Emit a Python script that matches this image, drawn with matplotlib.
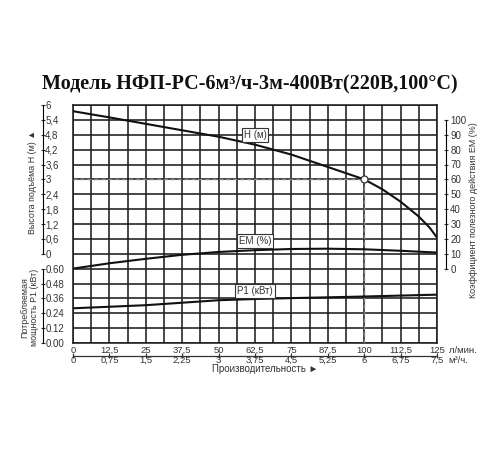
import matplotlib
matplotlib.use("Agg")
import matplotlib.pyplot as plt
import numpy as np

plt.rcParams['font.family'] = ['Liberation Sans Narrow', 'Liberation Sans', 'DejaVu Sans']

# flow, l/min
q_ticks = [0, 12.5, 25, 37.5, 50, 62.5, 75, 87.5, 100, 112.5, 125]
q_labels = ['0', '12,5', '25', '37,5', '50', '62,5', '75', '87,5', '100', '112,5', '125']
m3_labels = ['0', '0,75', '1,5', '2,25', '3', '3,75', '4,5', '5,25', '6', '6,75', '7,5']

# head curve H (m)
h_q = [0, 12.5, 25, 37.5, 50, 62.5, 75, 87.5, 100, 106.25, 112.5, 118.75, 122.5, 125]
h_val = [5.75, 5.5, 5.24, 4.98, 4.72, 4.4, 4.0, 3.5, 3.0, 2.6, 2.1, 1.5, 1.05, 0.65]

# efficiency EM (%)
em_q = [0, 12.5, 25, 37.5, 50, 62.5, 75, 87.5, 100, 112.5, 125]
em_val = [0, 3.6, 6.6, 9.3, 11.2, 12.4, 13.2, 13.4, 13.0, 12.0, 10.8]

# power P1 (kW)
p_q = [0, 25, 50, 62.5, 75, 100, 125]
p_val = [0.28, 0.305, 0.345, 0.355, 0.362, 0.375, 0.39]

# duty point
q_op, h_op = 100, 3.0

h_ticks = [0, 0.6, 1.2, 1.8, 2.4, 3, 3.6, 4.2, 4.8, 5.4, 6]
h_tlabels = ['0', '0,6', '1,2', '1,8', '2,4', '3', '3,6', '4,2', '4,8', '5,4', '6']
p_ticks = [0, 0.12, 0.24, 0.36, 0.48, 0.60]
p_tlabels = ['0.00', '0.12', '0.24', '0.36', '0.48', '0.60']
em_ticks = [0, 10, 20, 30, 40, 50, 60, 70, 80, 90, 100]

fig = plt.figure(figsize=(5, 4.5), dpi=100)

L, W = 73 / 500, 364 / 500
b0 = (450 - 343) / 450
H_all = (343 - 105) / 450
unit = H_all / 16

# background grid
ax = fig.add_axes([L, b0, W, H_all])
ax.set_xlim(0, 125)
ax.set_ylim(0, 16)
ax.set_xticks(np.arange(0, 125.1, 6.25))
ax.set_yticks(np.arange(0, 16.1, 1))
ax.grid(True, color='#1e1e1e', lw=1.15)
ax.tick_params(length=0, labelbottom=False, labelleft=False)
for s in ax.spines.values():
    s.set_color('#1e1e1e')
    s.set_linewidth(1.15)
ax.vlines(q_op, 0, 6 + h_op / 0.6, colors='#888888', linestyles=(0, (3, 2)), lw=1.0, zorder=3)

tick_fs = 7
xtick_fs = 6.8
lab_fs = 6.4
txt_c = '#333333'


def side_axes(bottom, height):
    a = fig.add_axes([L, bottom, W, height])
    a.patch.set_alpha(0)
    a.set_xlim(0, 125)
    a.set_xticks([])
    for s in a.spines.values():
        s.set_visible(False)
    return a


# head axes
hax = side_axes(b0 + 6 * unit, 10 * unit)
hax.set_ylim(0, 6)
hax.spines['left'].set_visible(True)
hax.spines['left'].set_position(('outward', 21.5))
hax.set_yticks(h_ticks, h_tlabels)
hax.tick_params(axis='y', direction='inout', length=3, width=0.8, pad=-3, labelsize=tick_fs, colors=txt_c)
for t in hax.get_yticklabels():
    t.set_ha('left')
hax.set_ylabel('Высота подъёма H (м) ▲', fontsize=lab_fs, color=txt_c)
hax.yaxis.set_label_coords(-0.099, 0.48)
hax.plot(h_q, h_val, color='#111111', lw=1.5, zorder=4)
hax.plot([0, q_op], [h_op, h_op], color='#888888', ls=(0, (3, 2)), lw=1.0, zorder=3)
hax.plot([q_op], [h_op], 'o', ms=5, mfc='white', mec='#333333', mew=0.9, zorder=5)
hax.text(62.5, 4.8, 'H (м)', ha='center', va='center', fontsize=7, color=txt_c, zorder=6,
         bbox=dict(boxstyle='square,pad=0.2', fc='white', ec='#333333', lw=0.8))

# power axes
pax = side_axes(b0, 6 * unit)
pax.set_ylim(0, 0.72)
pax.spines['left'].set_visible(True)
pax.spines['left'].set_position(('outward', 21.5))
pax.spines['left'].set_bounds(0, 0.60)
pax.set_yticks(p_ticks, p_tlabels)
pax.tick_params(axis='y', direction='inout', length=3, width=0.8, pad=-3, labelsize=tick_fs, colors=txt_c)
for t in pax.get_yticklabels():
    t.set_ha('left')
pax.set_ylabel('Потребляемая\nмощность P1 (кВт)', fontsize=lab_fs, color=txt_c,
               linespacing=1.15)
pax.yaxis.set_label_coords(-0.093, 0.4)
pax.plot(p_q, p_val, color='#111111', lw=1.5, zorder=4)
pax.text(62.5, 0.42, 'P1 (кВт)', ha='center', va='center', fontsize=7, color=txt_c, zorder=6,
         bbox=dict(boxstyle='square,pad=0.2', fc='white', ec='#333333', lw=0.8))

# efficiency axes
eax = side_axes(b0 + 5 * unit, 10 * unit)
eax.set_ylim(0, 100)
eax.spines['right'].set_visible(True)
eax.spines['right'].set_position(('outward', 6.5))
eax.yaxis.tick_right()
eax.yaxis.set_label_position('right')
eax.set_yticks(em_ticks)
eax.tick_params(axis='y', direction='inout', length=3, width=0.8, pad=1.5, labelsize=tick_fs, colors=txt_c)
eax.set_ylabel('Коэффициент полезного действия EM (%)', fontsize=lab_fs, color=txt_c)
eax.yaxis.set_label_coords(1.088, 0.395)
eax.plot(em_q, em_val, color='#111111', lw=1.5, zorder=4)
eax.text(62.5, 18.5, 'EM (%)', ha='center', va='center', fontsize=7, color=txt_c, zorder=6,
         bbox=dict(boxstyle='square,pad=0.2', fc='white', ec='#333333', lw=0.8))

# flow scales
qax = fig.add_axes([L, (450 - 355.5) / 450, W, 0.0001])
qax.patch.set_alpha(0)
qax.set_xlim(0, 125)
qax.set_yticks([])
for k in ['top', 'left', 'right']:
    qax.spines[k].set_visible(False)
qax.spines['bottom'].set_color('#333333')
qax.spines['bottom'].set_linewidth(0.9)
qax.set_xticks(q_ticks, m3_labels)
qax.tick_params(axis='x', direction='inout', length=2.5, width=0.8, pad=-0.8, labelsize=xtick_fs, colors=txt_c)
qtop = qax.twiny()
qtop.set_xlim(0, 125)
for s in qtop.spines.values():
    s.set_visible(False)
qtop.set_xticks(q_ticks, q_labels)
qtop.tick_params(axis='x', direction='inout', length=2.5, width=0.8, pad=-0.8, labelsize=xtick_fs, colors=txt_c)
qax.text(1.034, 1.3, 'л/мин.', transform=qax.transAxes, fontsize=xtick_fs, color=txt_c, va='bottom')
qax.text(1.03, -0.8, 'м³/ч.', transform=qax.transAxes, fontsize=xtick_fs, color=txt_c, va='top')
fig.text(265 / 500, 1 - 369.5 / 450, 'Производительность ►', ha='center', va='center',
         fontsize=7, color=txt_c)

fig.text(0.5, 1 - 84 / 450, 'Модель НФП-РС-6м³/ч-3м-400Вт(220В,100°С)', ha='center', va='center',
         fontsize=14.5, fontweight='bold', family='Liberation Serif', color='#111111')

fig.savefig('out.png', dpi=100)
